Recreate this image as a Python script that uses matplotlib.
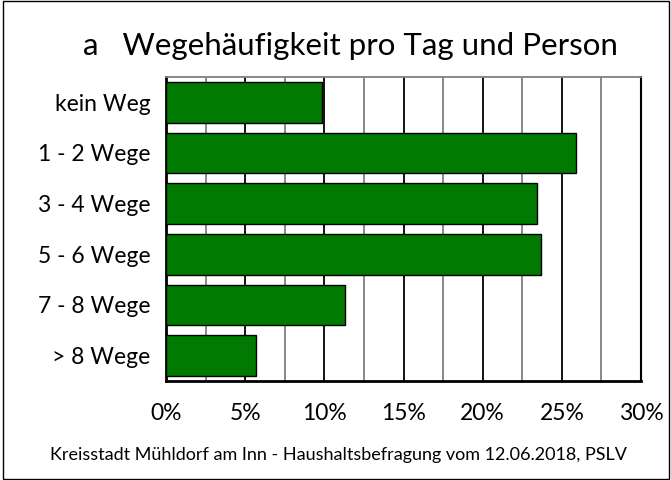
import matplotlib.pyplot as plt
from matplotlib.patches import Rectangle

categories = ["kein Weg", "1 - 2 Wege", "3 - 4 Wege", "5 - 6 Wege", "7 - 8 Wege", "> 8 Wege"]
shares = [9.85, 25.9, 23.4, 23.7, 11.3, 5.7]
tick_labels = ["0%", "5%", "10%", "15%", "20%", "25%", "30%"]

plt.rcParams['font.family'] = ['Lato', 'DejaVu Sans']

fig = plt.figure(figsize=(6.71, 4.80), dpi=100)
ax = fig.add_axes([0.2474, 0.2063, 0.7079, 0.6333])

y = list(range(len(categories)))
ax.barh(y, shares, height=0.8, color="#007a00", edgecolor="black", linewidth=1.0, zorder=3)

ax.set_xlim(0, 30)
ax.set_ylim(len(categories) - 0.5, -0.5)
ax.set_yticks(y)
ax.set_yticklabels(categories, fontsize=16.5)
ax.set_xticks([0, 5, 10, 15, 20, 25, 30])
ax.set_xticklabels(tick_labels, fontsize=16.5)
ax.tick_params(length=0)
ax.tick_params(axis="y", pad=11)
ax.tick_params(axis="x", pad=16)

for v in [2.5, 7.5, 12.5, 17.5, 22.5, 27.5]:
    ax.axvline(v, color="#808080", linewidth=1.3, zorder=1)
for v in [5, 10, 15, 20, 25]:
    ax.axvline(v, color="black", linewidth=1.3, zorder=1)

for s in ["left", "bottom"]:
    ax.spines[s].set_linewidth(2.0)
ax.spines["right"].set_linewidth(1.5)
ax.spines["top"].set_color("#808080")
ax.spines["top"].set_linewidth(1.3)

fig.text(0.522, 0.905, "a   Wegehäufigkeit pro Tag und Person", ha="center", va="center", fontsize=22.5)
fig.text(0.505, 0.052, "Kreisstadt Mühldorf am Inn - Haushaltsbefragung vom 12.06.2018, PSLV",
         ha="center", va="center", fontsize=13)

fig.patches.append(Rectangle((0.004, 0.002), 0.993, 0.996, transform=fig.transFigure,
                             fill=False, edgecolor="black", linewidth=1.0))

fig.savefig("out.png", dpi=100)
